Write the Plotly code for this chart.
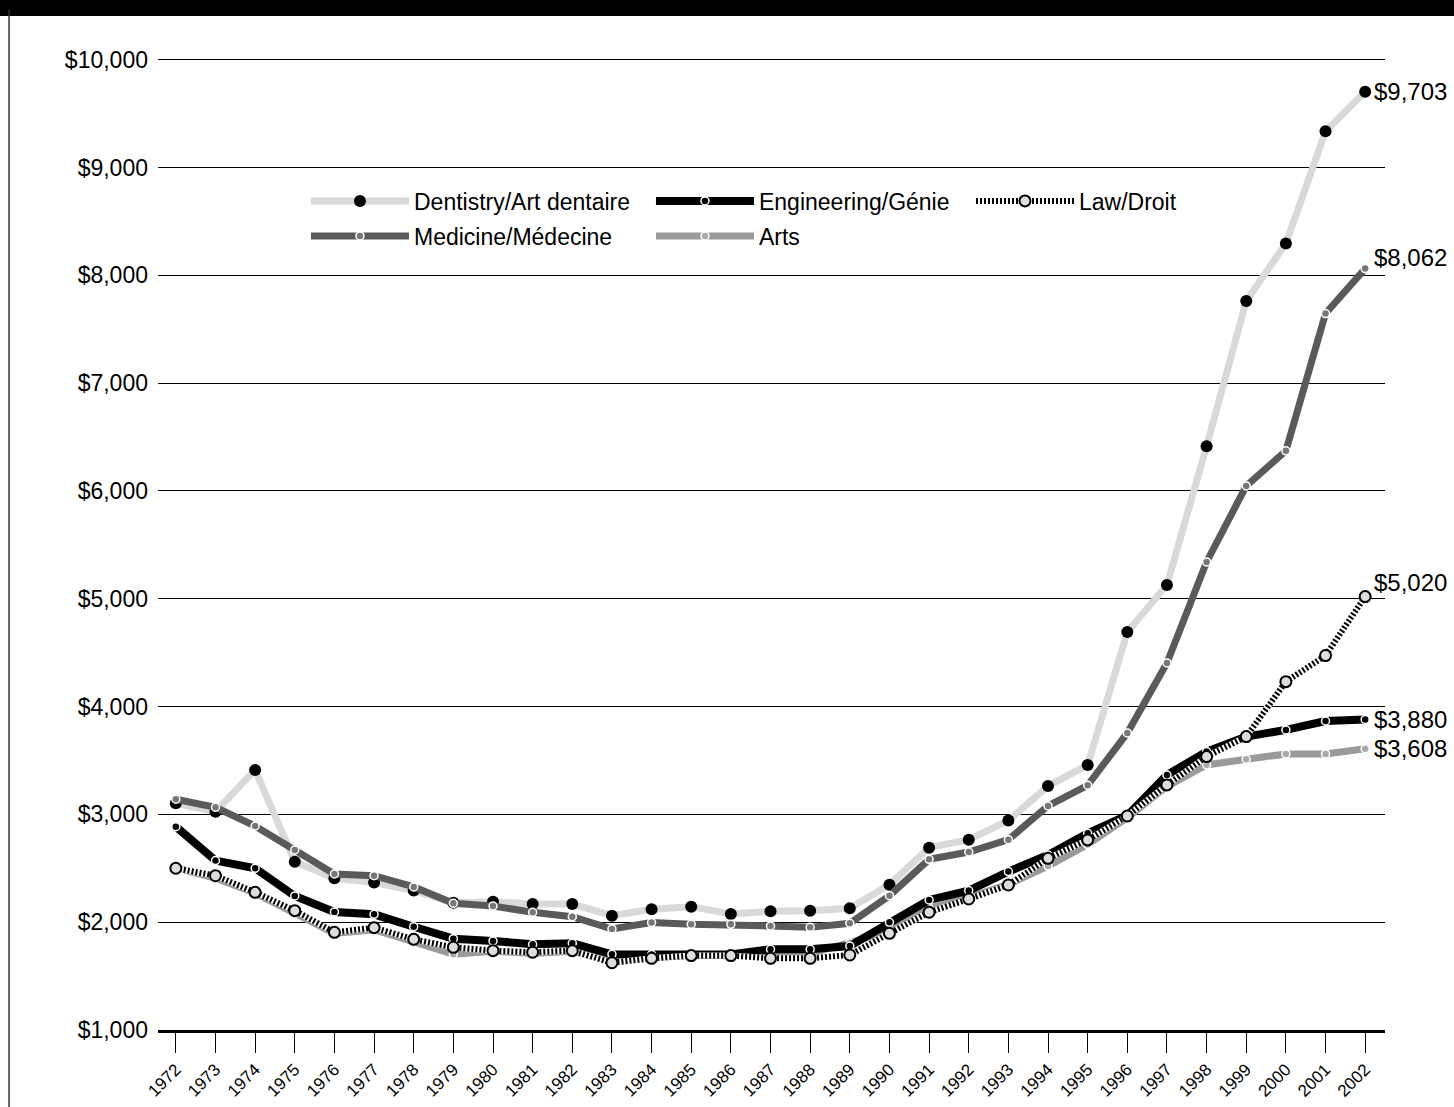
import plotly.graph_objects as go

years = list(range(1972, 2003))

dentistry = [3103, 3025, 3412, 2561, 2407, 2367, 2293, 2181, 2190, 2169, 2169, 2060,
             2120, 2144, 2076, 2101, 2107, 2129, 2348, 2691, 2765, 2942, 3263, 3458,
             4692, 5128, 6415, 7762, 8295, 9335, 9703]
medicine = [3140, 3066, 2892, 2670, 2447, 2431, 2327, 2175, 2150, 2092, 2051, 1937,
            1996, 1980, 1980, 1965, 1952, 1990, 2246, 2583, 2651, 2765, 3078, 3270,
            3755, 4404, 5341, 6046, 6372, 7645, 8062]
engineering = [2886, 2571, 2500, 2243, 2095, 2073, 1958, 1847, 1826, 1795, 1804, 1702,
               1700, 1700, 1700, 1749, 1749, 1779, 1999, 2206, 2293, 2469, 2623, 2824,
               2990, 3365, 3582, 3721, 3783, 3866, 3880]
law = [2500, 2431, 2277, 2107, 1906, 1949, 1841, 1767, 1736, 1721, 1736, 1624,
       1665, 1690, 1690, 1665, 1665, 1696, 1897, 2092, 2215, 2345, 2592, 2763,
       2985, 3273, 3536, 3721, 4231, 4473, 5020]
arts = [2505, 2407, 2270, 2082, 1895, 1930, 1819, 1702, 1730, 1710, 1730, 1640,
        1670, 1690, 1690, 1700, 1710, 1810, 1920, 2130, 2230, 2350, 2520, 2720,
        2970, 3260, 3458, 3511, 3560, 3560, 3608]

names = ["Dentistry/Art dentaire", "Medicine/Médecine", "Engineering/Génie", "Law/Droit", "Arts"]
end_labels = ["$9,703", "$8,062", "$3,880", "$5,020", "$3,608"]

y_tick_vals = [1000, 2000, 3000, 4000, 5000, 6000, 7000, 8000, 9000, 10000]
y_tick_text = ["$1,000", "$2,000", "$3,000", "$4,000", "$5,000",
               "$6,000", "$7,000", "$8,000", "$9,000", "$10,000"]
x_tick_text = [str(y) for y in years]

FONT = "Liberation Sans, Arial, sans-serif"

fig = go.Figure()

fig.add_trace(go.Scatter(
    x=years, y=dentistry, name=names[0], mode="lines+markers",
    line=dict(color="#d9d9d9", width=7),
    marker=dict(color="black", size=12, line=dict(color="black", width=0)),
    legend="legend", legendrank=1, legendwidth=232))
fig.add_trace(go.Scatter(
    x=years, y=medicine, name=names[1], mode="lines+markers",
    line=dict(color="#5a5a5a", width=7),
    marker=dict(color="#777777", size=8, line=dict(color="white", width=1.5)),
    legend="legend2", legendrank=1, legendwidth=232))
fig.add_trace(go.Scatter(
    x=years, y=arts, name=names[4], mode="lines+markers",
    line=dict(color="#9a9a9a", width=7),
    marker=dict(color="#aaaaaa", size=8, line=dict(color="white", width=1.5)),
    legend="legend2", legendrank=2, legendwidth=100))
fig.add_trace(go.Scatter(
    x=years, y=engineering, name=names[2], mode="lines+markers",
    line=dict(color="black", width=8),
    marker=dict(color="black", size=8, line=dict(color="white", width=1.5)),
    legend="legend", legendrank=2, legendwidth=207))
fig.add_trace(go.Scatter(
    x=years, y=law, name="law_base", mode="lines", showlegend=False,
    line=dict(color="white", width=6), hoverinfo="skip"))
fig.add_trace(go.Scatter(
    x=years, y=law, name=names[3], mode="lines+markers",
    line=dict(color="black", width=6, dash="2px,2px"),
    marker=dict(color="#dddddd", size=11, line=dict(color="black", width=2)),
    legend="legend", legendrank=3, legendwidth=110))

series_last = [dentistry[-1], medicine[-1], engineering[-1], law[-1], arts[-1]]
shifts = [0, 11, 0, 14, 0]
for lab, val, sh in zip(end_labels, series_last, shifts):
    fig.add_annotation(x=years[-1], y=val, text=lab, showarrow=False,
                       xanchor="left", yanchor="middle", xshift=7, yshift=sh,
                       font=dict(family=FONT, size=24, color="black"))

# decorative frame: top black band and left border
fig.add_shape(type="rect", xref="paper", yref="paper", x0=-0.2, x1=1.2, y0=1.0432, y1=1.2,
              fillcolor="black", line=dict(width=0), layer="above")
fig.add_shape(type="line", xref="paper", yref="paper", x0=-0.1214, x1=-0.1214, y0=-0.2, y1=1.05,
              line=dict(color="#333333", width=1.5))

legend_common = dict(orientation="h", xanchor="left", yanchor="middle",
                     font=dict(family=FONT, size=23, color="black"),
                     itemwidth=98, entrywidthmode="pixels",
                     bgcolor="rgba(0,0,0,0)", borderwidth=0)

fig.update_layout(
    width=1454, height=1107,
    margin=dict(l=158, r=69, t=58, b=77),
    paper_bgcolor="white", plot_bgcolor="white",
    font=dict(family=FONT, color="black"),
    showlegend=True,
    legend=dict(x=0.1206, y=0.8529, **legend_common),
    legend2=dict(x=0.1206, y=0.8169, **legend_common),
    xaxis=dict(range=[1971.55, 2002.5], tickmode="array", tickvals=years,
               ticktext=x_tick_text, tickangle=-45,
               ticks="outside", ticklen=20, tickwidth=1, tickcolor="black",
               showline=True, linecolor="black", linewidth=3,
               showgrid=False, zeroline=False, automargin=False,
               tickfont=dict(family=FONT, size=17, color="black")),
    yaxis=dict(range=[1000, 10015], tickmode="array",
               tickvals=y_tick_vals, ticktext=y_tick_text,
               showgrid=True, gridcolor="black", gridwidth=1, zeroline=False,
               ticks="", showline=False, ticklabelstandoff=9, automargin=False,
               tickfont=dict(family=FONT, size=23, color="black")),
)

fig.write_html("out.html", config={"displayModeBar": False},
               post_script="document.body.style.margin='0';")
